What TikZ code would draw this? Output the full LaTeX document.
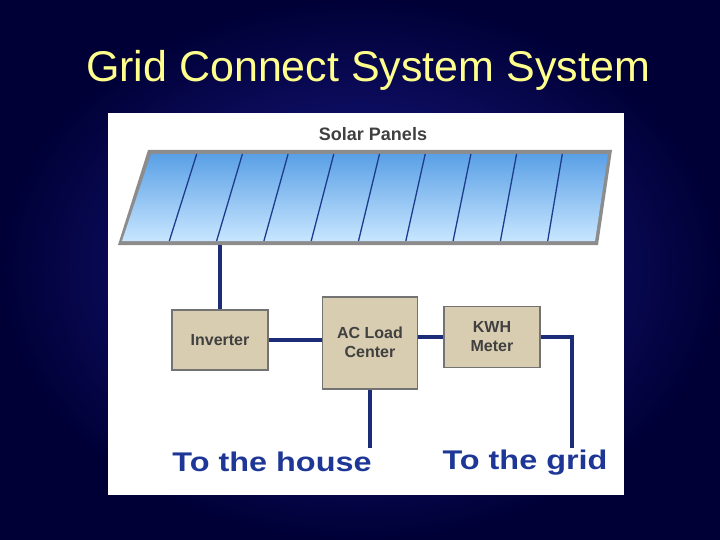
\documentclass[tikz,border=0pt]{standalone}
\usepackage{fontspec}
\setmainfont{Liberation Sans}
\definecolor{wirec}{RGB}{28,44,120}
\definecolor{cellline}{RGB}{30,60,140}
\definecolor{boxc}{RGB}{216,205,176}
\definecolor{lblc}{RGB}{30,55,150}
\definecolor{titc}{RGB}{255,255,140}
\definecolor{bgin}{RGB}{30,30,150}
\definecolor{bgout}{RGB}{0,0,55}
\definecolor{pt}{RGB}{90,160,230}
\definecolor{pbot}{RGB}{200,230,255}
\begin{document}
\begin{tikzpicture}[x=1pt,y=-1pt,
 box/.style={draw=black!55,line width=1.5pt,fill=boxc,font=\bfseries\fontsize{16}{19}\selectfont,text=black!75,align=center,inner sep=0},
 wire/.style={draw=wirec,line width=3.5pt},
 lbl/.style={text=lblc,font=\bfseries\fontsize{27}{30}\selectfont,xscale=1.2}]
\useasboundingbox (0,0) rectangle (720,540);
\fill[inner color=bgin,outer color=bgout] (0,0) rectangle (720,540);
\node[text=titc,font=\fontsize{43}{48}\selectfont] (title) at (368,70) {Grid Connect System System};
\fill[white] (108,113) rectangle (624,495);
\node[text=black!75,font=\bfseries\fontsize{18}{20}\selectfont] (sp) at (373,134) {Solar Panels};
\fill[black!45] (148,150) -- (612,150) -- (598,245) -- (118,245) -- cycle;
\shade[top color=pt,bottom color=pbot] (151,154) -- (608,154) -- (595,241) -- (122,241) -- cycle;
\foreach \i in {1,...,9}{
 \draw[cellline,line width=1.3pt] ({151+\i*45.7},154) -- ({122+\i*47.3},241);}
\coordinate (pb) at (220,245);
\node[box,minimum width=96pt,minimum height=60pt] (inv) at (220,340) {Inverter};
\node[box,minimum width=95pt,minimum height=92pt,anchor=north] (ac) at (370,296) {AC Load\\Center};
\node[box,minimum width=96pt,minimum height=61pt] (kwh) at (492,337) {KWH\\Meter};
\draw[wire] (pb) -- (inv.north);
\draw[wire] (inv.east) -- (inv.east -| ac.west);
\draw[wire] (ac.east |- kwh.west) -- (kwh.west);
\coordinate (h) at (370,448);
\coordinate (g) at (572,448);
\draw[wire] (ac.south) -- (h);
\draw[wire] (kwh.east) -- (572,337) -- (g);
\node[lbl] (th) at (272,462) {To the house};
\node[lbl] (tg) at (525,463) {To the grid};
\end{tikzpicture}
\end{document}
